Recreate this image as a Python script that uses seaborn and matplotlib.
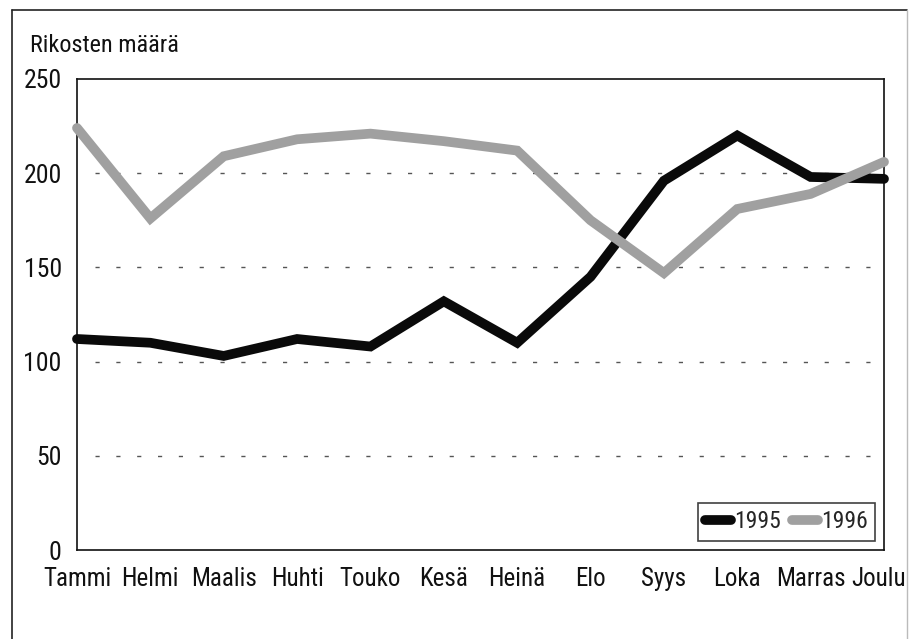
import matplotlib
matplotlib.use("Agg")
import matplotlib.pyplot as plt
import matplotlib.transforms as mtransforms
import seaborn as sns
import pandas as pd
from matplotlib.lines import Line2D
from matplotlib import font_manager

months = ["Tammi", "Helmi", "Maalis", "Huhti", "Touko", "Kesä",
          "Heinä", "Elo", "Syys", "Loka", "Marras", "Joulu"]
v1995 = [112, 110, 103, 112, 108, 132, 110, 145, 196, 220, 198, 197]
v1996 = [224, 176, 209, 218, 221, 217, 212, 175, 147, 181, 189, 206]
years = ["1995", "1996"]
yticks = [0, 50, 100, 150, 200, 250]

df = pd.DataFrame({
    "idx": list(range(len(months))) * 2,
    "value": v1995 + v1996,
    "year": [years[0]] * len(months) + [years[1]] * len(months),
})

sns.set_theme(style="white")
available = {f.name for f in font_manager.fontManager.ttflist}
prefs = ["Roboto Condensed", "Liberation Sans Narrow", "Open Sans Condensed",
         "DejaVu Sans Condensed", "Liberation Sans", "DejaVu Sans"]
fams = [f for f in prefs if f in available] + ["DejaVu Sans"]
plt.rcParams["font.family"] = fams

fig = plt.figure(figsize=(9.09, 6.39), dpi=100)
ax = fig.add_axes([77/909, 1-550/639, (884-77)/909, (550-79)/639])

palette = {"1995": "#0a0a0a", "1996": "#a0a0a0"}
sns.lineplot(data=df, x="idx", y="value", hue="year", hue_order=years,
             palette=palette, linewidth=7, ax=ax, legend=False, zorder=3)
for ln in ax.get_lines():
    ln.set_clip_on(False)
    ln.set_solid_capstyle("round")
    ln.set_solid_joinstyle("miter")

ax.set_xlim(0, len(months) - 1)
ax.set_ylim(0, 250)
ax.set_xticks(range(len(months)))
ax.set_xticklabels(months, fontsize=18)
ax.set_yticks(yticks)
ax.set_yticklabels([str(t) for t in yticks], fontsize=18.5)
ax.tick_params(axis="both", length=0, colors="#111111")
ax.tick_params(axis="x", pad=12)
ax.tick_params(axis="y", pad=11)
ax.set_xlabel("")
ax.set_ylabel("")

# keep the last month label inside the figure
last = ax.get_xticklabels()[-1]
last.set_transform(last.get_transform() +
                   mtransforms.ScaledTranslation(-0.05, 0, fig.dpi_scale_trans))

for g in [50, 100, 150, 200]:
    ax.axhline(g, xmin=0.022, xmax=0.995, color="#555555", lw=1.0,
               ls=(0, (3, 12)), zorder=1)

for s in ax.spines.values():
    s.set_color("#111111")
    s.set_linewidth(1.2)
    s.set_visible(True)

handles = [Line2D([0], [0], color=palette[y], lw=7, solid_capstyle="round") for y in years]
leg = ax.legend(handles, years, loc="lower right", ncol=2, frameon=True,
                fontsize=17, handlelength=1.1, handletextpad=0.1,
                columnspacing=0.5, borderpad=0.3, borderaxespad=0.4,
                fancybox=False)
leg.get_frame().set_edgecolor("#111111")
leg.get_frame().set_linewidth(1.2)

fig.text(30/909, 1-45/639, "Rikosten määrä", fontsize=17.5, color="#111111",
         ha="left", va="center")

# outer frame
fig.add_artist(Line2D([12/909, 12/909], [0, 1-10/639], transform=fig.transFigure,
                      color="#222222", lw=1.2))
fig.add_artist(Line2D([12/909, 907/909], [1-10/639, 1-10/639], transform=fig.transFigure,
                      color="#222222", lw=1.2))
fig.add_artist(Line2D([907/909, 907/909], [0, 1-10/639], transform=fig.transFigure,
                      color="#bbbbbb", lw=1.0))

fig.savefig("out.png", dpi=100)
